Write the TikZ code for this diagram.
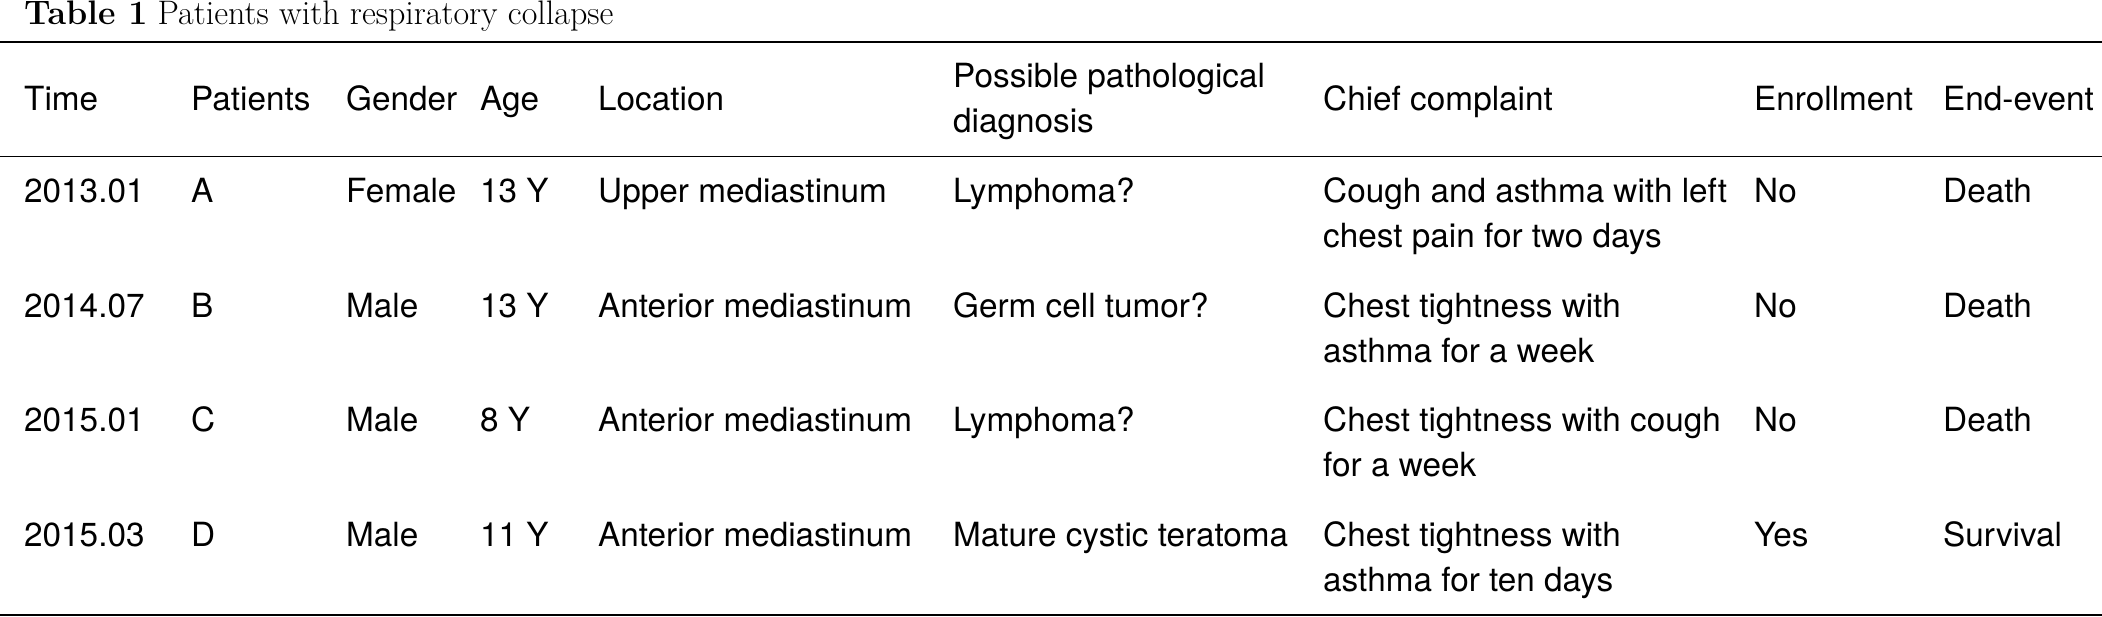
\documentclass[tikz,border=0pt]{standalone}
\usepackage{fontspec}
\newfontfamily\bodyfont{TeX Gyre Heros}
\tikzset{
    cell/.style={anchor=base west, inner sep=0pt, align=left,
        font=\bodyfont\fontsize{33.3}{45}\selectfont},
    caption/.style={anchor=base west, inner sep=0pt,
        font=\fontsize{34}{40}\selectfont}
}
\begin{document}
\begin{tikzpicture}[x=1pt,y=-1pt]
        % fix the page size
        \useasboundingbox (0,0) rectangle (2102,617);

        % draw the caption
        \node[caption] (title) at (24,25) {\textbf{Table 1} Patients with respiratory collapse};

        % draw the rules of the table
        \coordinate (topL) at (0,42);
        \coordinate (topR) at (2102,42);
        \coordinate (midL) at (0,156.5);
        \coordinate (midR) at (2102,156.5);
        \coordinate (botL) at (0,615);
        \coordinate (botR) at (2102,615);
        \draw[line width=2pt] (topL) -- (topR);
        \draw[line width=1.8pt] (midL) -- (midR);
        \draw[line width=2.2pt] (botL) -- (botR);

        % fill the header (base of a two line cell is its last line)
        \node[cell] (hTime) at (24,110.5) {Time};
        \node[cell] (hPat) at (191,110.5) {Patients};
        \node[cell] (hGen) at (346,110.5) {Gender};
        \node[cell] (hAge) at (480,110.5) {Age};
        \node[cell] (hLoc) at (598,110.5) {Location};
        \node[cell] (hDiag) at (953,132.5) {Possible pathological\\diagnosis};
        \node[cell] (hChief) at (1323,110.5) {Chief complaint};
        \node[cell] (hEnr) at (1754,110.5) {Enrollment};
        \node[cell] (hEnd) at (1943,110.5) {End-event};

        % fill the rows of patients
        \foreach \y/\ti/\pa/\ge/\ag/\lo/\di/\ch/\en/\ev [count=\i] in {
            203/2013.01/A/Female/13 Y/Upper mediastinum/Lymphoma?/Cough and asthma with left\\chest pain for two days/No/Death,
            317.5/2014.07/B/Male/13 Y/Anterior mediastinum/Germ cell tumor?/Chest tightness with\\asthma for a week/No/Death,
            431.5/2015.01/C/Male/8 Y/Anterior mediastinum/Lymphoma?/Chest tightness with cough\\for a week/No/Death,
            546.5/2015.03/D/Male/11 Y/Anterior mediastinum/Mature cystic teratoma/Chest tightness with\\asthma for ten days/Yes/Survival}{
            \node[cell] (time\i) at (24,\y) {\ti};
            \node[cell] (pat\i) at (191,\y) {\pa};
            \node[cell] (gen\i) at (346,\y) {\ge};
            \node[cell] (age\i) at (480,\y) {\ag};
            \node[cell] (loc\i) at (598,\y) {\lo};
            \node[cell] (diag\i) at (953,\y) {\di};
            \node[cell] (chief\i) at (1323,\y+45) {\ch};
            \node[cell] (enr\i) at (1754,\y) {\en};
            \node[cell] (end\i) at (1943,\y) {\ev};
        }
\end{tikzpicture}
\end{document}
